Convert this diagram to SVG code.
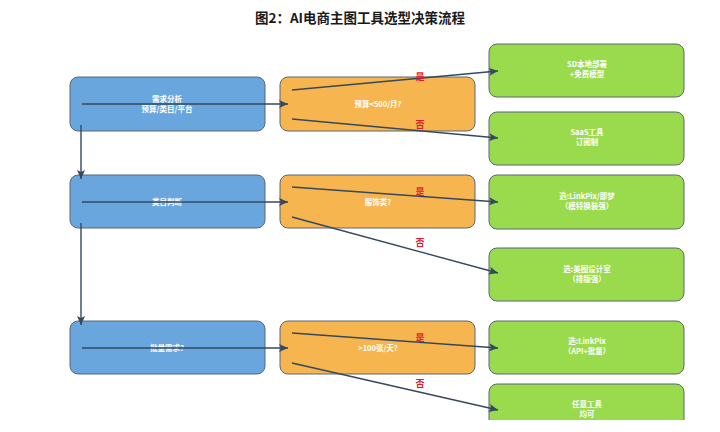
<svg xmlns="http://www.w3.org/2000/svg" width="720" height="432" viewBox="0 0 720 432">
<style>
text{font-family:"Noto Sans CJK SC","Liberation Sans",sans-serif;}
.title{font-size:13.5px;font-weight:bold;fill:#1a1a1a;text-anchor:middle;}
.box{stroke:#5b6775;stroke-width:1;}
.blue{fill:#6aa6de;}
.orange{fill:#f6b54f;}
.green{fill:#9adb4e;}
.t{font-size:7.5px;fill:#ffffff;text-anchor:middle;font-weight:bold;}
.lbl{font-size:9px;fill:#e0192b;text-anchor:middle;font-weight:bold;}
.c{stroke:#34495e;stroke-width:1.4;fill:none;marker-end:url(#ah);}
</style>
<defs>
<marker id="ah" markerWidth="10" markerHeight="8" refX="9" refY="4" orient="auto" markerUnits="userSpaceOnUse">
<path d="M0,0 L9,4 L0,8 L2,4 Z" fill="#34495e"/>
</marker>
<clipPath id="clip"><rect x="0" y="0" width="720" height="420"/></clipPath>
</defs>
<rect width="720" height="432" fill="#ffffff"/>
<text class="title" x="360" y="23">图2：AI电商主图工具选型决策流程</text>

<g id="n_demand"><rect class="box blue" x="70" y="77" width="195" height="54" rx="8"/><text class="t" x="167" y="101.5">需求分析</text><text class="t" x="167" y="111.5">预算/类目/平台</text></g>
<g id="n_category"><rect class="box blue" x="70" y="175" width="195" height="53" rx="8"/><text class="t" x="167" y="205">类目判断</text></g>
<g id="n_batch"><rect class="box blue" x="70" y="321" width="195" height="53" rx="8"/><text class="t" x="167" y="351">批量需求?</text></g>

<g id="n_budget"><rect class="box orange" x="280" y="77" width="195" height="54" rx="8"/><text class="t" x="378" y="107">预算&lt;500/月?</text></g>
<g id="n_apparel"><rect class="box orange" x="280" y="175" width="195" height="53" rx="8"/><text class="t" x="378" y="205">服饰类?</text></g>
<g id="n_volume"><rect class="box orange" x="280" y="321" width="195" height="53" rx="8"/><text class="t" x="378" y="351">&gt;100张/天?</text></g>

<g id="n_sd"><rect class="box green" x="489" y="44" width="195" height="53" rx="8"/><text class="t" x="587" y="67">SD本地部署</text><text class="t" x="587" y="77">+免费模型</text></g>
<g id="n_saas"><rect class="box green" x="489" y="112" width="195" height="53" rx="8"/><text class="t" x="587" y="135">SaaS工具</text><text class="t" x="587" y="145">订阅制</text></g>
<g id="n_linkpix_jm"><rect class="box green" x="489" y="175" width="195" height="54" rx="8"/><text class="t" x="587" y="199">选:LinkPix/即梦</text><text class="t" x="587" y="209">（模特换装强）</text></g>
<g id="n_meitu"><rect class="box green" x="489" y="248" width="195" height="53" rx="8"/><text class="t" x="587" y="272">选:美图设计室</text><text class="t" x="587" y="282">（排版强）</text></g>
<g id="n_linkpix"><rect class="box green" x="489" y="321" width="195" height="53" rx="8"/><text class="t" x="587" y="344">选:LinkPix</text><text class="t" x="587" y="354">（API+批量）</text></g>
<g id="n_any" clip-path="url(#clip)"><rect class="box green" x="489" y="384" width="195" height="53" rx="8"/><text class="t" x="587" y="407">任意工具</text><text class="t" x="587" y="417">均可</text></g>

<g id="connectors">
<line class="c" x1="82" y1="104" x2="288" y2="104"/>
<line class="c" x1="81" y1="125" x2="81" y2="179"/>
<line class="c" x1="82" y1="202" x2="288" y2="202"/>
<line class="c" x1="81" y1="223" x2="81" y2="325"/>
<line class="c" x1="82" y1="348" x2="288" y2="348"/>
<line class="c" x1="292" y1="90" x2="498" y2="71"/>
<line class="c" x1="292" y1="119" x2="498" y2="138"/>
<line class="c" x1="292" y1="187" x2="498" y2="202"/>
<line class="c" x1="292" y1="217" x2="498" y2="273"/>
<line class="c" x1="292" y1="333" x2="498" y2="348"/>
<line class="c" x1="292" y1="363" x2="498" y2="410"/>
<text class="lbl" x="420" y="80">是</text>
<text class="lbl" x="420" y="128">否</text>
<text class="lbl" x="420" y="195">是</text>
<text class="lbl" x="420" y="246">否</text>
<text class="lbl" x="420" y="341">是</text>
<text class="lbl" x="420" y="387">否</text>
</g>
</svg>
